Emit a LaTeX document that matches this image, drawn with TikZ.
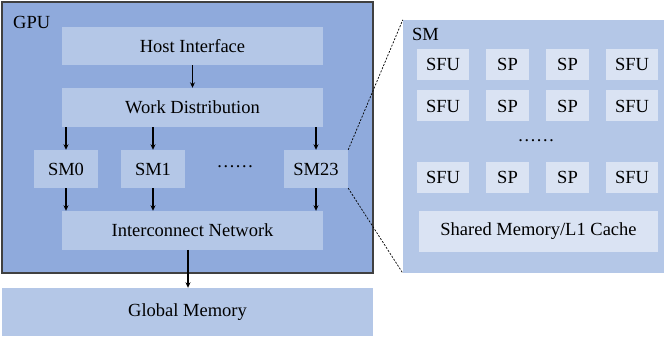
\documentclass[tikz,border=0pt]{standalone}
\usepackage{fontspec}
\setmainfont{Liberation Serif}
\usetikzlibrary{arrows.meta}
\definecolor{gpublue}{HTML}{8FAADC}
\definecolor{lightblue}{HTML}{B4C7E7}
\definecolor{paleblue}{HTML}{DAE3F3}
\tikzset{
  box/.style={fill=lightblue, draw=none, inner sep=0pt, font=\fontsize{18.5}{20}\selectfont},
  unit/.style={fill=paleblue, draw=none, inner sep=0pt, minimum width=52pt, minimum height=31pt, font=\fontsize{18.5}{20}\selectfont},
  lbl/.style={inner sep=0pt, font=\fontsize{18.5}{20}\selectfont},
  arr/.style={-{Stealth[length=5.5pt,width=5pt]}, line width=1.3pt, black},
  zoomline/.style={line width=0.7pt, dash pattern=on 2pt off 1.5pt, black}
}
\begin{document}
\begin{tikzpicture}[x=1pt,y=-1pt]
\useasboundingbox (0,0) rectangle (664,339);
% GPU container
\node[draw={rgb,255:red,64;green,64;blue,64}, line width=1.5pt, fill=gpublue, minimum width=371pt, minimum height=271pt, inner sep=0pt] (gpu) at (187.5,137.5) {};
\node[lbl, anchor=base west] (gpulbl) at (13,29) {GPU};
% SM detail container
\node[fill=lightblue, minimum width=261pt, minimum height=253pt, inner sep=0pt] (smbox) at (533.5,146.5) {};
\node[lbl, anchor=base west] (smlbl) at (412,41) {SM};
% GPU internals
\node[box, minimum width=261pt, minimum height=38pt] (host) at (192.5,46) {Host Interface};
\node[box, minimum width=261pt, minimum height=39pt] (work) at (192.5,107.5) {Work Distribution};
\node[box, minimum width=64pt, minimum height=38pt] (sm0) at (66,169) {SM0};
\node[box, minimum width=64pt, minimum height=38pt] (sm1) at (153,169) {SM1};
\node[box, minimum width=64pt, minimum height=38pt] (sm23) at (316,169) {SM23};
\node[lbl] (dots) at (235,167) {……};
\node[box, minimum width=261pt, minimum height=39pt] (inter) at (192.5,230.5) {Interconnect Network};
\node[box, minimum width=371pt, minimum height=48pt] (glob) at (187.5,312) {Global Memory};
% arrows
\draw[arr] (host.south) -- (work.north);
\draw[arr] (sm0.north |- work.south) -- (sm0.north);
\draw[arr] (sm1.north |- work.south) -- (sm1.north);
\draw[arr] (sm23.north |- work.south) -- (sm23.north);
\draw[arr] (sm0.south) -- (sm0.south |- inter.north);
\draw[arr] (sm1.south) -- (sm1.south |- inter.north);
\draw[arr] (sm23.south) -- (sm23.south |- inter.north);
\draw[arr] (188,250) coordinate (interout) -- (interout |- glob.north);
% SM internals
\foreach \r/\y in {a/64.5, b/106, c/177.5} {
  \node[unit] (sfuL\r) at (443,\y) {SFU};
  \node[unit, minimum width=43pt] (spL\r) at (507.5,\y) {SP};
  \node[unit, minimum width=43pt] (spR\r) at (567.5,\y) {SP};
  \node[unit] (sfuR\r) at (632,\y) {SFU};
}
\node[lbl] (smdots) at (536,141) {……};
\node[unit, minimum width=239pt, minimum height=41pt] (shared) at (538.5,231.5) {Shared Memory/L1 Cache};
% zoom lines
\draw[zoomline] (sm23.north east) -- (smbox.north west);
\draw[zoomline] (sm23.south east) -- (smbox.south west);
\end{tikzpicture}
\end{document}
